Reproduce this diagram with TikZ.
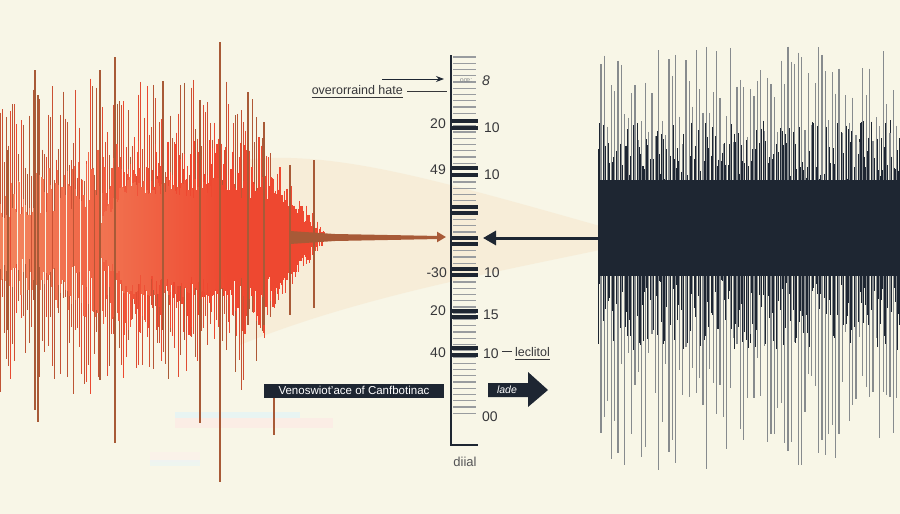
\documentclass[tikz,border=0pt]{standalone}
\usepackage{fontspec}
\setmainfont{Liberation Sans}
\usetikzlibrary{arrows.meta,calc}
\definecolor{bg}{RGB}{248,246,231}
\definecolor{wred}{RGB}{238,72,48}
\definecolor{wor}{RGB}{242,130,92}
\definecolor{wbrown}{RGB}{168,90,55}
\definecolor{navy}{RGB}{30,38,50}
\definecolor{wgray}{RGB}{135,139,142}
\definecolor{ink}{RGB}{55,55,58}
\definecolor{peach}{RGB}{246,224,194}
\tikzset{
  numlbl/.style={font=\fontsize{14}{14}\selectfont, text=ink, inner sep=0pt},
  smalllbl/.style={font=\fontsize{12.5}{12.5}\selectfont, text=ink, inner sep=0pt},
  thintick/.style={draw=wgray!85, line width=1.1pt},
  thicktick/.style={draw=navy, line width=3.3pt},
  stem/.style={line width=1.1pt, draw=wbrown},
}
\begin{document}
\begin{tikzpicture}[x=1pt,y=-1pt]
\fill[bg] (0,0) rectangle (900,514);
\useasboundingbox (0,0) rectangle (900,514);

% faint glitch bands
\fill[pink!40, opacity=0.5] (175,418) rectangle (333,428);
\fill[cyan!15, opacity=0.5] (175,412) rectangle (300,418);
\fill[pink!30, opacity=0.4] (150,452) rectangle (200,462);
\fill[cyan!12, opacity=0.4] (150,460) rectangle (200,466);

% beam
\fill[peach, opacity=0.38] (240,160) .. controls (330,150) and (420,175) .. (600,226)
  -- (600,250) .. controls (480,275) and (350,300) .. (240,345) -- cycle;

% left waveform: stems
\pgfmathsetseed{11}
\foreach \x in {0,2.1,...,300}{
  \pgfmathsetmacro{\env}{min(160,max(0,2.9*(300-\x)))}
  \pgfmathsetmacro{\u}{\env*(0.35+0.65*rnd)}
  \pgfmathsetmacro{\d}{\env*(0.35+0.65*rnd)}
  \pgfmathtruncatemacro{\p}{100*rnd}
  \draw[line width=0.9pt, draw=wred!\p!wbrown] (\x,237-\u) -- (\x,237+\d);
}
% left waveform: dense core
\foreach \x in {0,1.4,...,330}{
  \pgfmathsetmacro{\env}{min(50+\x*0.4,min(100,max(5,1.45*(330-\x))))}
  \pgfmathsetmacro{\u}{\env*(0.35+0.65*rnd)}
  \pgfmathsetmacro{\d}{\env*(0.35+0.65*rnd)}
  \pgfmathtruncatemacro{\p}{min(100,max(0,(\x-20)*0.7))}
  \draw[line width=1.1pt, draw=wred!\p!wor] (\x,237-\u) -- (\x,237+\d);
}
% left waveform: solid inner core
\foreach \x in {100,101,...,320}{
  \pgfmathsetmacro{\env}{min(20+1.5*(\x-100),min(60,max(4,1.3*(320-\x))))}
  \pgfmathsetmacro{\u}{\env*(0.6+0.4*rnd)}
  \pgfmathsetmacro{\d}{\env*(0.6+0.4*rnd)}
  \pgfmathtruncatemacro{\p}{min(100,max(0,(\x-60)*0.6))}
  \draw[line width=1.2pt, draw=wred!\p!wor] (\x,237-\u) -- (\x,237+\d);
}
% prominent spikes
\foreach \x/\a/\b in {220/42/482, 115/57/443, 35/70/410, 163/81/330, 248/92/325,
  264/122/325, 290/165/315, 314/160/308, 200/100/423, 38/95/422, 100/70/380, 8/150/330, 274/397/435}
  \draw[stem] (\x,\a) -- (\x,\b);

% tail
\fill[wbrown] (290,231) -- (335,234) -- (440,236) -- (440,239) -- (335,241) -- (290,244) -- cycle;
\coordinate (tailstart) at (300,237);
\coordinate (scaleleft) at (446,237);
\draw[wbrown, line width=3pt, -{Triangle[length=9pt,width=10pt]}] (tailstart) -- (scaleleft);

% right waveform
\pgfmathsetseed{5}
\foreach \x in {598,599.3,...,900}{
  \pgfmathsetmacro{\t}{120+60*rnd}
  \pgfmathsetmacro{\b}{280+70*rnd}
  \draw[navy, line width=0.9pt] (\x,\t) -- (\x,\b);
}
\fill[navy] (598,180) rectangle (900,276);
\foreach \x in {601,604.4,...,900}{
  \pgfmathsetmacro{\t}{45+100*rnd}
  \pgfmathsetmacro{\b}{330+140*rnd}
  \draw[wgray, line width=1.2pt] (\x,\t) -- (\x,180) (\x,276) -- (\x,\b);
}
\coordinate (darkstart) at (598,238);
\coordinate (scaleright) at (483,238);
\draw[navy, line width=3pt, -{Triangle[length=13pt,width=14pt]}] (darkstart) -- (scaleright);

% scale
\foreach \y in {57,63.25,...,416}
  \draw[thintick] (453,\y) -- (476,\y);
\foreach \y in {121,128,168,175,207,213,238,244,269,275,311,317,348,355}
  \draw[thicktick] (452,\y) -- (478,\y);
\draw[navy, line width=2pt] (451,55) -- (451,445) -- (478,445);

\node[numlbl, anchor=east] (l20) at (446,124) {20};
\node[numlbl, anchor=east] (l49) at (446,170) {49};
\node[numlbl, anchor=east] (lm30) at (447,273) {-30};
\node[numlbl, anchor=east] (l20b) at (446,311) {20};
\node[numlbl, anchor=east] (l40) at (446,353) {40};
\node[numlbl, anchor=west] (r8) at (482,81) {\itshape 8};
\node[numlbl, anchor=west] (r10a) at (484,128) {10};
\node[numlbl, anchor=west] (r10b) at (484,175) {10};
\node[numlbl, anchor=west] (r10c) at (484,273) {10};
\node[numlbl, anchor=west] (r15) at (483,315) {15};
\node[numlbl, anchor=west] (r10d) at (483,354) {10};
\node[numlbl, anchor=west] (r00) at (482,417) {00};
\node[font=\fontsize{7}{7}\selectfont, text=wgray, inner sep=0pt] (smudge) at (466,81) {oœ:};

% top annotation
\coordinate (topA) at (382,79);
\coordinate (topB) at (444,79);
\draw[navy, line width=1pt, -{Stealth[length=8pt,width=6pt]}] (topA) -- (topB);
\node[smalllbl, anchor=east] (over) at (403,90) {overorraind hate};
\draw[ink, line width=0.8pt] ($(over.south west)+(0,3)$) -- ($(over.south east)+(0,3)$);
\coordinate (overend) at (447,91);
\draw[ink, line width=0.8pt] (407,91) -- (overend);

% leclitol
\node[smalllbl, anchor=west] (lec) at (515,352) {leclitol};
\draw[ink, line width=0.8pt] ($(lec.south west)+(0,3)$) -- ($(lec.south east)+(0,3)$);
\draw[ink, line width=0.9pt] ($(r10d.east)+(3,-3)$) -- ($(r10d.east)+(13,-3)$);

% black label box
\node[fill=navy, text=white, font=\fontsize{11.5}{12}\selectfont, minimum width=180pt,
  minimum height=14pt, inner sep=0pt] (box) at (354,390.5) {Venoswiot'ace of Canfbotinac};

% lade arrow
\fill[navy] (488,383) -- (528,383) -- (528,372) -- (548,390) -- (528,407) -- (528,397) -- (488,397) -- cycle;
\node[text=white, font=\fontsize{10.5}{10.5}\selectfont\itshape, inner sep=0pt] (lade) at (507,390) {lade};

% dial label
\node[font=\fontsize{13}{13}\selectfont, text=ink!85, inner sep=0pt] (dial) at (465,462) {diial};
\end{tikzpicture}
\end{document}
